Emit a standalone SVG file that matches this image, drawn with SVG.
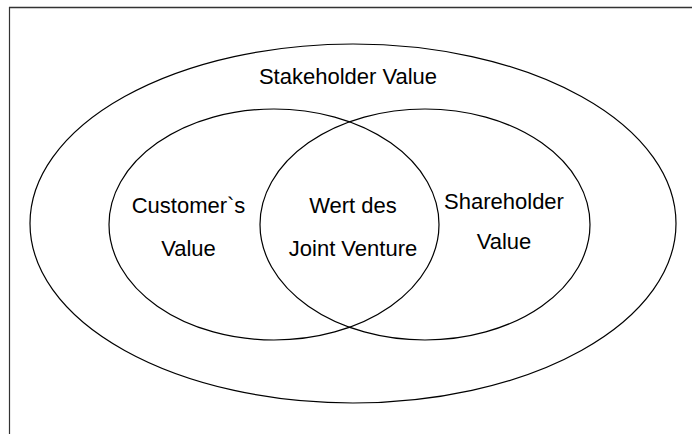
<svg xmlns="http://www.w3.org/2000/svg" width="692" height="434" viewBox="0 0 692 434">
<style>
.shape{fill:none;stroke:#000;stroke-width:1.2}
.lbl{font-family:"Liberation Sans",Arial,sans-serif;font-size:22px;fill:#000;text-anchor:middle}
.frame{stroke:#333;fill:none}
</style>
<rect width="692" height="434" fill="#fff"/>
<g id="frame">
<line class="frame" x1="9" y1="7.5" x2="692" y2="7.5" stroke-width="1.6"/>
<line class="frame" x1="9.5" y1="7" x2="9.5" y2="434" stroke-width="1.2" stroke="#000"/>
</g>
<g id="stakeholder">
<ellipse class="shape" cx="353" cy="223.5" rx="323" ry="179.5"/>
<text class="lbl" x="348" y="84">Stakeholder Value</text>
</g>
<g id="customer">
<ellipse class="shape" cx="274" cy="224.5" rx="165" ry="115.5"/>
<text class="lbl" x="188.5" y="213">Customer`s</text>
<text class="lbl" x="188.5" y="256">Value</text>
</g>
<g id="shareholder">
<ellipse class="shape" cx="425" cy="224.5" rx="165" ry="115.5"/>
<text class="lbl" x="504" y="209">Shareholder</text>
<text class="lbl" x="504" y="249">Value</text>
</g>
<g id="jointventure">
<text class="lbl" x="353" y="213">Wert des</text>
<text class="lbl" x="353" y="256">Joint Venture</text>
</g>
<g id="connectors"></g>
</svg>
